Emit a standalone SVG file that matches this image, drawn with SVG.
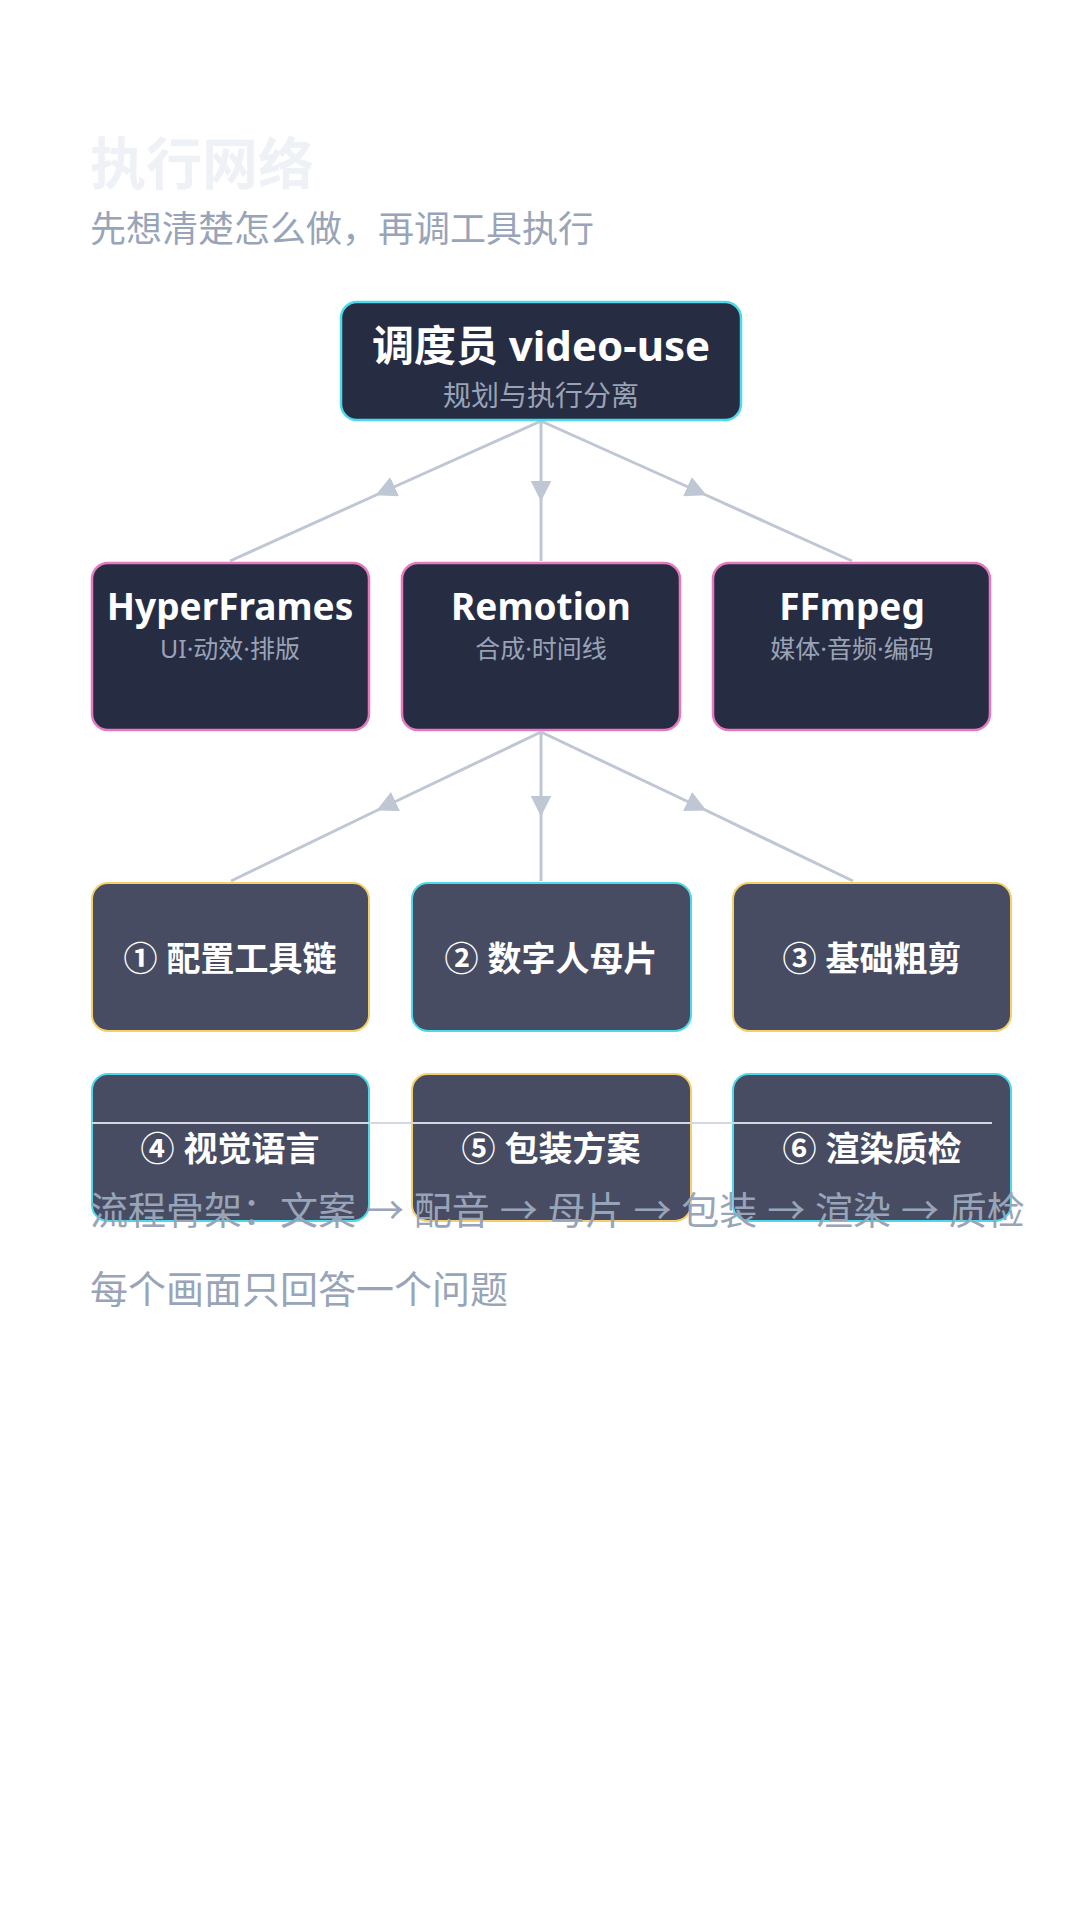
<svg xmlns="http://www.w3.org/2000/svg" width="1080" height="1920" viewBox="0 0 1080 1920">
<defs>
<style>
text{font-family:"Noto Sans","Noto Sans CJK SC",sans-serif}
.t{font-weight:700;fill:#ffffff;text-anchor:middle}
.s{fill:#9aa3b5;text-anchor:middle}
.n1{fill:#262c42;stroke-width:2.5}
.n3{fill:#474c62;stroke-width:2}
.c{stroke:#bfc7d4;stroke-width:3;fill:none;marker-mid:url(#a)}
</style>
<marker id="a" viewBox="0 0 10 10" refX="5" refY="5" markerWidth="7" markerHeight="7" orient="auto" markerUnits="strokeWidth"><path d="M0,0L10,5L0,10z" fill="#bfc7d4"/></marker>
</defs>
<rect width="1080" height="1920" fill="#ffffff"/>
<text x="90" y="184" font-size="56" font-weight="700" fill="#eef1f6">执行网络</text>
<text x="90" y="242" font-size="36" fill="#98a4b8">先想清楚怎么做，再调工具执行</text>
<g id="connectors">
<polyline class="c" points="541,421 385,491 230,561"/>
<polyline class="c" points="541,421 541,491 541,561"/>
<polyline class="c" points="541,421 697,491 852,561"/>
<polyline class="c" points="541,732 386,806 231,881"/>
<polyline class="c" points="541,732 541,806 541,881"/>
<polyline class="c" points="541,732 697,806 853,881"/>
</g>
<g id="n-top"><rect class="n1" x="341" y="302" width="400" height="118" rx="16" stroke="#4dd9ec"/>
<text class="t" x="541" y="361" font-size="42">调度员 video-use</text><text class="s" x="541" y="406" font-size="28">规划与执行分离</text></g>
<g id="n-hf"><rect class="n1" x="92" y="563" width="277" height="167" rx="16" stroke="#e879c0"/>
<text class="t" x="230" y="620" font-size="37">HyperFrames</text><text class="s" x="230" y="658" font-size="25">UI·动效·排版</text></g>
<g id="n-rm"><rect class="n1" x="402" y="563" width="278" height="167" rx="16" stroke="#e879c0"/>
<text class="t" x="541" y="620" font-size="37">Remotion</text><text class="s" x="541" y="658" font-size="25">合成·时间线</text></g>
<g id="n-ff"><rect class="n1" x="713" y="563" width="277" height="167" rx="16" stroke="#e879c0"/>
<text class="t" x="852" y="620" font-size="37">FFmpeg</text><text class="s" x="852" y="658" font-size="25">媒体·音频·编码</text></g>
<g id="s1"><rect class="n3" x="92" y="883" width="277" height="148" rx="16" stroke="#f5d06a"/><text class="t" x="230" y="971" font-size="34">① 配置工具链</text></g>
<g id="s2"><rect class="n3" x="412" y="883" width="279" height="148" rx="16" stroke="#4dd9ec"/><text class="t" x="551" y="971" font-size="34">② 数字人母片</text></g>
<g id="s3"><rect class="n3" x="733" y="883" width="278" height="148" rx="16" stroke="#f5d06a"/><text class="t" x="872" y="971" font-size="34">③ 基础粗剪</text></g>
<g id="s4"><rect class="n3" x="92" y="1074" width="277" height="147" rx="16" stroke="#4dd9ec"/><text class="t" x="230" y="1161" font-size="34">④ 视觉语言</text></g>
<g id="s5"><rect class="n3" x="412" y="1074" width="279" height="147" rx="16" stroke="#f5d06a"/><text class="t" x="551" y="1161" font-size="34">⑤ 包装方案</text></g>
<g id="s6"><rect class="n3" x="733" y="1074" width="278" height="147" rx="16" stroke="#4dd9ec"/><text class="t" x="872" y="1161" font-size="34">⑥ 渲染质检</text></g>
<line x1="92" y1="1123" x2="992" y2="1123" stroke="#d4d8e0" stroke-width="2"/>
<text x="90" y="1224" font-size="38" fill="#98a4b8">流程骨架：文案 → 配音 → 母片 → 包装 → 渲染 → 质检</text>
<text x="90" y="1303" font-size="38" fill="#98a4b8">每个画面只回答一个问题</text>
</svg>
